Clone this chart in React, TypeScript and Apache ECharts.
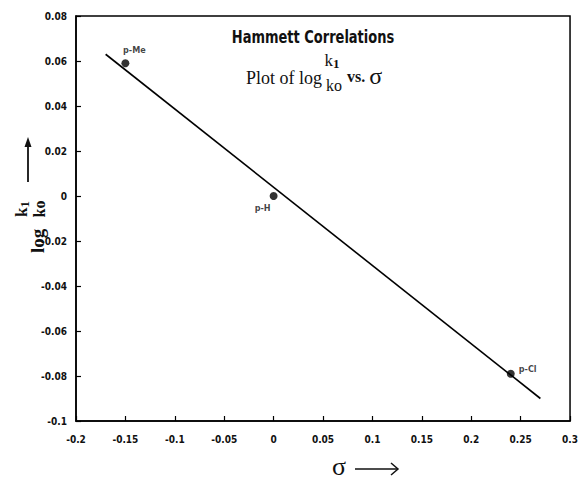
import React, { useEffect, useRef } from "react";
import * as echarts from "echarts";

// Substituent constants (sigma) and log(k1/ko)
const substituents = ["p-Me", "p-H", "p-Cl"];
const sigmaValues = [-0.15, 0.0, 0.24];
const logRatioValues = [0.059, 0.0, -0.079];

// Fitted correlation line end points
const fitSigma = [-0.17, 0.27];
const fitLogRatio = [0.063, -0.09];

// Axis ranges / tick steps
const xTicks = [-0.2, -0.15, -0.1, -0.05, 0, 0.05, 0.1, 0.15, 0.2, 0.25, 0.3];
const yTicks = [-0.1, -0.08, -0.06, -0.04, -0.02, 0, 0.02, 0.04, 0.06, 0.08];

const TICK_FONT = "'DejaVu Sans Condensed', 'Liberation Sans Narrow', 'Arial Narrow', sans-serif";
const SERIF = "'Liberation Serif', 'DejaVu Serif', serif";

export default function App() {
  const ref = useRef<HTMLDivElement>(null);

  useEffect(() => {
    if (!ref.current) return;
    const chart = echarts.init(ref.current, undefined, { renderer: "svg" });

    const fmt = (v: number) => String(+v.toFixed(2));

    const labelPos: Record<string, any> = {
      "p-Me": { position: "top", offset: [9, -2] },
      "p-H": { position: "left", offset: [4, 12] },
      "p-Cl": { position: "right", offset: [1, -5] },
    };

    const scatterData = substituents.map((name, i) => ({
      name,
      value: [sigmaValues[i], logRatioValues[i]],
      label: {
        show: true,
        formatter: name,
        color: "#111",
        fontSize: 9,
        fontWeight: "bold",
        fontFamily: TICK_FONT,
        distance: 3,
        ...labelPos[name],
      },
    }));

    const fitData = fitSigma.map((s, i) => [s, fitLogRatio[i]]);

    const axisCommon = {
      type: "value",
      splitLine: { show: false },
      axisLine: { show: true, onZero: false, lineStyle: { color: "#000", width: 1.5 } },
      axisTick: { show: true, inside: true, length: 5, lineStyle: { color: "#000", width: 1.2 } },
    };

    const option: any = {
      animation: false,
      backgroundColor: "#fff",
      grid: {
        left: 76,
        right: 6,
        top: 16,
        bottom: 58,
        show: true,
        borderColor: "#000",
        borderWidth: 1.5,
        backgroundColor: "transparent",
      },
      xAxis: {
        ...axisCommon,
        min: xTicks[0],
        max: xTicks[xTicks.length - 1],
        interval: 0.05,
        axisLabel: {
          formatter: fmt,
          color: "#111",
          fontSize: 10,
          fontWeight: "bold",
          fontFamily: TICK_FONT,
          margin: 13,
          showMaxLabel: true,
          showMinLabel: true,
        },
      },
      yAxis: {
        ...axisCommon,
        min: yTicks[0],
        max: yTicks[yTicks.length - 1],
        interval: 0.02,
        axisLabel: {
          formatter: fmt,
          color: "#111",
          fontSize: 10,
          fontWeight: "bold",
          fontFamily: TICK_FONT,
          margin: 9,
          showMaxLabel: true,
          showMinLabel: true,
        },
      },
      series: [
        {
          type: "line",
          data: fitData,
          symbol: "none",
          lineStyle: { color: "#000", width: 1.6 },
          silent: true,
          z: 2,
        },
        {
          type: "scatter",
          data: scatterData,
          symbol: "circle",
          symbolSize: 8,
          itemStyle: { color: "#000" },
          z: 3,
        },
      ],
      graphic: [
        // Title line 1
        {
          type: "text",
          x: 313,
          y: 37,
          scaleX: 0.85,
          style: {
            text: "Hammett Correlations",
            fill: "#111",
            fontSize: 17,
            fontWeight: "bold",
            fontFamily: TICK_FONT,
            textAlign: "center",
            textVerticalAlign: "middle",
          },
        },
        // Title line 2
        {
          type: "text",
          x: 322,
          y: 78,
          style: {
            text: "Plot of log",
            fill: "#111",
            fontSize: 18,
            fontFamily: SERIF,
            textAlign: "right",
            textVerticalAlign: "middle",
          },
        },
        {
          type: "text",
          x: 332,
          y: 60,
          style: {
            text: "{k|k}{s|1}",
            textAlign: "center",
            textVerticalAlign: "middle",
            rich: {
              k: { fontSize: 17, fontFamily: SERIF, fill: "#111" },
              s: { fontSize: 13, fontWeight: "bold", fontFamily: SERIF, fill: "#111", padding: [6, 0, 0, 0] },
            },
          },
        },
        {
          type: "text",
          x: 334,
          y: 85,
          style: {
            text: "ko",
            fill: "#111",
            fontSize: 16,
            fontFamily: SERIF,
            textAlign: "center",
            textVerticalAlign: "middle",
          },
        },
        {
          type: "text",
          x: 347,
          y: 76,
          style: {
            text: "{a|vs. }{b|σ}",
            textAlign: "left",
            textVerticalAlign: "middle",
            rich: {
              a: { fontSize: 16, fontWeight: "bold", fontFamily: SERIF, fill: "#111" },
              b: { fontSize: 24, fontFamily: SERIF, fill: "#111" },
            },
          },
        },
        // X axis name: sigma with arrow
        {
          type: "text",
          x: 339,
          y: 466,
          style: {
            text: "σ",
            fill: "#111",
            fontSize: 26,
            lineHeight: 20,
            fontFamily: SERIF,
            textAlign: "center",
            textVerticalAlign: "middle",
          },
        },
        {
          type: "line",
          shape: { x1: 355, y1: 469, x2: 398, y2: 469 },
          style: { stroke: "#111", lineWidth: 1.5 },
        },
        {
          type: "polyline",
          shape: { points: [[391, 463], [398, 469], [391, 475]] },
          style: { stroke: "#111", lineWidth: 1.5, fill: "none" },
        },
        // Y axis name (rotated group)
        {
          type: "group",
          x: 37,
          y: 253,
          rotation: Math.PI / 2,
          children: [
            {
              type: "text",
              x: 0,
              y: 0,
              style: {
                text: "log",
                fill: "#111",
                fontSize: 19,
                fontWeight: "bold",
                fontFamily: SERIF,
                textAlign: "left",
                textVerticalAlign: "middle",
              },
            },
            {
              type: "text",
              x: 44,
              y: -16,
              style: {
                text: "{k|k}{s|1}",
                textAlign: "center",
                textVerticalAlign: "middle",
                rich: {
                  k: { fontSize: 17, fontWeight: "bold", fontFamily: SERIF, fill: "#111" },
                  s: { fontSize: 13, fontWeight: "bold", fontFamily: SERIF, fill: "#111", padding: [6, 0, 0, 0] },
                },
              },
            },
            {
              type: "text",
              x: 44,
              y: 2,
              style: {
                text: "ko",
                fill: "#111",
                fontSize: 16,
                fontWeight: "bold",
                fontFamily: SERIF,
                textAlign: "center",
                textVerticalAlign: "middle",
              },
            },
            {
              type: "line",
              shape: { x1: 71, y1: -9, x2: 112, y2: -9 },
              style: { stroke: "#111", lineWidth: 1.8 },
            },
            {
              type: "polygon",
              shape: { points: [[116, -9], [106, -12.5], [106, -5.5]] },
              style: { fill: "#111" },
            },
          ],
        },
      ],
    };

    chart.setOption(option);
    return () => chart.dispose();
  }, []);

  return (
    <div
      ref={ref}
      style={{ position: "fixed", left: 0, top: 0, width: 581, height: 479, background: "#fff" }}
    />
  );
}
